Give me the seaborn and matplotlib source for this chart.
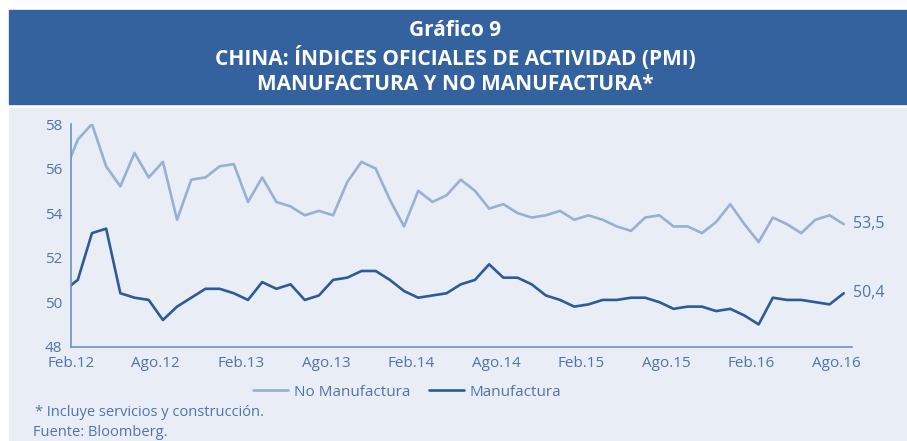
import numpy as np
import pandas as pd
import matplotlib
matplotlib.use("Agg")
import matplotlib.pyplot as plt
from matplotlib.patches import Rectangle
import seaborn as sns

# Monthly PMI, Jan.12 - Ago.16
manufactura = [
    50.5, 51.0, 53.1, 53.3, 50.4, 50.2, 50.1, 49.2, 49.8, 50.2, 50.6, 50.6,
    50.4, 50.1, 50.9, 50.6, 50.8, 50.1, 50.3, 51.0, 51.1, 51.4, 51.4, 51.0,
    50.5, 50.2, 50.3, 50.4, 50.8, 51.0, 51.7, 51.1, 51.1, 50.8, 50.3, 50.1,
    49.8, 49.9, 50.1, 50.1, 50.2, 50.2, 50.0, 49.7, 49.8, 49.8, 49.6, 49.7,
    49.4, 49.0, 50.2, 50.1, 50.1, 50.0, 49.9, 50.4,
]
no_manufactura = [
    55.7, 57.3, 58.0, 56.1, 55.2, 56.7, 55.6, 56.3, 53.7, 55.5, 55.6, 56.1,
    56.2, 54.5, 55.6, 54.5, 54.3, 53.9, 54.1, 53.9, 55.4, 56.3, 56.0, 54.6,
    53.4, 55.0, 54.5, 54.8, 55.5, 55.0, 54.2, 54.4, 54.0, 53.8, 53.9, 54.1,
    53.7, 53.9, 53.7, 53.4, 53.2, 53.8, 53.9, 53.4, 53.4, 53.1, 53.6, 54.4,
    53.5, 52.7, 53.8, 53.5, 53.1, 53.7, 53.9, 53.5,
]
tick_labels = ["Feb.12", "Ago.12", "Feb.13", "Ago.13", "Feb.14", "Ago.14",
               "Feb.15", "Ago.15", "Feb.16", "Ago.16"]
series_names = ["No Manufactura", "Manufactura"]

BANNER = "#33629e"
PANEL = "#e9edf5"
LIGHT = "#98b0d4"
DARK = "#2e5b98"
TEXT = "#4f74ab"
AXIS = "#6f90c3"

sns.set_style("white")
plt.rcParams["font.family"] = ["Open Sans", "DejaVu Sans"]

n = len(manufactura)
df = pd.DataFrame({
    "mes": list(range(n)) * 2,
    "valor": no_manufactura + manufactura,
    "serie": [series_names[0]] * n + [series_names[1]] * n,
})

fig = plt.figure(figsize=(9.07, 4.41), dpi=100)
fig.patch.set_facecolor("white")

# header banner and light panel (behind the axes)
fig.patches.append(Rectangle((9 / 907, 1 - 104 / 441), 1, 94 / 441,
                             transform=fig.transFigure, color=BANNER, zorder=-2))
fig.patches.append(Rectangle((9 / 907, 0), 1, 1 - 108 / 441,
                             transform=fig.transFigure, color=PANEL, zorder=-2))

title_lines = ["Gráfico 9",
               "CHINA: ÍNDICES OFICIALES DE ACTIVIDAD (PMI)",
               "MANUFACTURA Y NO MANUFACTURA*"]
for txt, ypix in zip(title_lines, [31, 58, 85]):
    fig.text(455 / 907, 1 - ypix / 441, txt, ha="center", va="center",
             color="white", fontsize=15, fontweight="bold")

ax = fig.add_axes([70.7 / 907, 94.3 / 441, 781 / 907, 222.7 / 441])
ax.set_facecolor("none")

sns.lineplot(data=df, x="mes", y="valor", hue="serie",
             palette={series_names[0]: LIGHT, series_names[1]: DARK},
             linewidth=1.9, ax=ax, legend=True)

handles, labels = ax.get_legend_handles_labels()
ax.get_legend().remove()

ax.set_xlim(0.5, 55.56)
ax.set_ylim(48, 58)
ax.set_yticks(np.arange(48, 59, 2))
ax.set_xticks([0.5 + 6 * i for i in range(len(tick_labels))])
ax.set_xticklabels(tick_labels)
ax.set_xlabel("")
ax.set_ylabel("")

for side in ["top", "right"]:
    ax.spines[side].set_visible(False)
for side in ["left", "bottom"]:
    ax.spines[side].set_color(AXIS)
    ax.spines[side].set_linewidth(1.2)
ax.tick_params(axis="both", colors=AXIS, labelcolor=TEXT, labelsize=11,
               length=4, width=1.0, direction="out")
ax.tick_params(axis="x", pad=3)
ax.tick_params(axis="y", pad=2)

# end-value labels
for vals in [no_manufactura, manufactura]:
    ax.annotate(f"{vals[-1]:.1f}".replace(".", ","), xy=(n - 1, vals[-1]),
                xytext=(7, 0), textcoords="offset points", va="center",
                ha="left", color=TEXT, fontsize=11.5, annotation_clip=False)

fig.legend(handles, labels, loc="center", bbox_to_anchor=(407 / 907, 1 - 392 / 441),
           ncol=2, frameon=False, fontsize=11, labelcolor=TEXT,
           handlelength=2.3, handletextpad=0.4, columnspacing=1.2)

fig.text(35 / 907, 1 - 413 / 441, "* Incluye servicios y construcción.",
         ha="left", va="center", color=TEXT, fontsize=10.5)
fig.text(33 / 907, 1 - 433 / 441, "Fuente: Bloomberg.",
         ha="left", va="center", color=TEXT, fontsize=10.5)

fig.savefig("out.png", dpi=100, facecolor=fig.get_facecolor())
